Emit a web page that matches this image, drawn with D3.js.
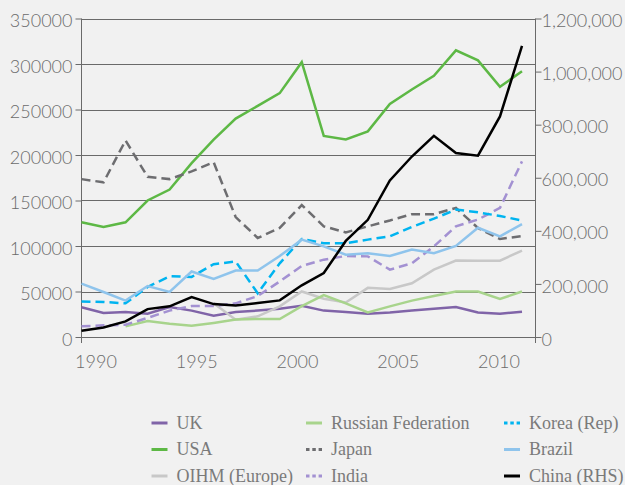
<!DOCTYPE html>
<html>
<head>
<meta charset="utf-8">
<script src="https://cdn.jsdelivr.net/npm/d3@7"></script>
<style>
  html, body { margin: 0; padding: 0; background: #f1f1f1; }
  svg { display: block; }
  .axis text { font-family: Lato, "Open Sans", sans-serif; font-weight: 300; fill: #6b6b6b; }
  .legend text { font-family: "Liberation Serif", serif; fill: #7a7a7a; }
</style>
</head>
<body>
<svg id="chart" width="625" height="485"></svg>
<script>
// Years along the horizontal axis
const years = [1990,1991,1992,1993,1994,1995,1996,1997,1998,1999,2000,
               2001,2002,2003,2004,2005,2006,2007,2008,2009,2010];
const yearLabels = [1990, 1995, 2000, 2005, 2010];
const leftTicks = [0,50000,100000,150000,200000,250000,300000,350000];
const rightTicks = [0,200000,400000,600000,800000,1000000,1200000];

// Series values (left axis unless noted)
const uk     = [32600,26400,27500,25600,33000,29000,23400,27500,29000,31000,34400,29000,27500,25600,27000,29000,31000,33000,27000,25600,27800];
const usa    = [126000,121000,126000,150000,162000,191000,217000,240000,254000,268000,302000,221000,217000,226000,256000,272000,287000,315000,304000,275000,292000];
const oihm   = [null,null,null,null,null,null,37000,19000,22700,33700,50000,42000,38000,54000,52700,59000,74000,84000,83900,83900,95000];
const russia = [null,null,11700,17500,14600,12300,15500,19200,19800,19800,34000,46000,37000,27000,33700,40000,45000,50000,50000,41800,50000];
const japan  = [173500,170000,216000,176000,173500,182000,192000,131800,108800,119800,145000,121600,115000,121600,128000,135000,135000,141800,119800,107700,111000];
const india  = [11700,12800,13500,21000,29000,34000,34000,37000,45000,61000,78000,85000,89000,88600,74000,81000,99600,121600,129000,141800,193000];
const korea  = [39000,38500,37000,55000,66700,66000,80000,83000,48000,81000,107700,103000,103000,107000,110600,121000,130000,140000,137000,133000,128000];
const brazil = [58600,49500,40000,56000,49500,72000,63700,73000,73000,89000,107000,99600,90500,92000,89000,96000,92000,100000,120000,110600,124000];
// China is plotted against the right-hand axis
const china  = [23900,36000,59000,105000,115600,150700,124000,119000,128000,138000,194700,241000,362000,441600,590000,680000,758000,693000,683000,831000,1097000];

const seriesNames = ["UK","USA","OIHM (Europe)","Russian Federation","Japan","India","Korea (Rep)","Brazil","China (RHS)"];
const seriesData  = [uk, usa, oihm, russia, japan, india, korea, brazil, china];
const seriesColor = ["#8064a8","#5db845","#c8c8c8","#a8d48c","#6d6d70","#a391d2","#00b4f0","#8fc4ec","#000000"];
const seriesDash  = [null,null,null,null,"9,5","9,5","9,5",null,null];
const seriesAxis  = ["L","L","L","L","L","L","L","L","R"];

const svg = d3.select("#chart");

const plot = { left: 81.5, right: 535.5, top: 18.5, bottom: 337 };
const x = d3.scaleLinear().domain([1990, 2010]).range([81.5, 522]);
const xLabel = d3.scaleLinear().domain([1990, 2010]).range([96, 499]);
const yL = d3.scaleLinear().domain([0, 350000]).range([plot.bottom, plot.top]);
const yR = d3.scaleLinear().domain([0, 1200000]).range([plot.bottom, plot.top]);

// Horizontal grid
svg.append("g").selectAll("line").data(leftTicks).join("line")
  .attr("x1", plot.left).attr("x2", plot.right)
  .attr("y1", d => Math.round(yL(d)) + 0.5).attr("y2", d => Math.round(yL(d)) + 0.5)
  .attr("stroke", "#6a6a6a").attr("stroke-width", 1);

// Left axis
const leftAxis = svg.append("g").attr("class", "axis")
  .attr("transform", `translate(${plot.left},0)`)
  .call(d3.axisLeft(yL).tickValues(leftTicks).tickFormat(d3.format("d")).tickSize(6).tickSizeOuter(0));
leftAxis.select(".domain").remove();
leftAxis.selectAll(".tick line").attr("stroke", "#6a6a6a");
leftAxis.selectAll(".tick text").attr("font-size", 18).attr("x", -9).attr("dy", "0.45em");
svg.append("line").attr("x1", plot.left).attr("x2", plot.left)
  .attr("y1", plot.top).attr("y2", plot.bottom + 6).attr("stroke", "#6a6a6a");

// Right axis
const rightAxis = svg.append("g").attr("class", "axis")
  .attr("transform", `translate(${plot.right},0)`)
  .call(d3.axisRight(yR).tickValues(rightTicks).tickFormat(d3.format(",")).tickSize(6).tickSizeOuter(0));
rightAxis.select(".domain").remove();
rightAxis.selectAll(".tick line").attr("stroke", "#6a6a6a");
rightAxis.selectAll(".tick text").attr("font-size", 18).attr("x", 6).attr("dy", "0.45em");
svg.append("line").attr("x1", plot.right).attr("x2", plot.right)
  .attr("y1", plot.top).attr("y2", plot.bottom + 6).attr("stroke", "#6a6a6a");

// Year labels
svg.append("g").attr("class", "axis").selectAll("text").data(yearLabels).join("text")
  .attr("x", d => xLabel(d)).attr("y", 368)
  .attr("text-anchor", "middle").attr("font-size", 18)
  .text(d => d);

// Series lines
const line = yScale => d3.line()
  .defined(d => d.v != null)
  .x(d => x(d.year)).y(d => yScale(d.v));

seriesData.forEach((vals, i) => {
  const pts = years.map((yr, j) => ({ year: yr, v: vals[j] }));
  svg.append("path")
    .datum(pts)
    .attr("fill", "none")
    .attr("stroke", seriesColor[i])
    .attr("stroke-width", 2.5)
    .attr("stroke-linejoin", "miter")
    .attr("stroke-dasharray", seriesDash[i])
    .attr("d", line(seriesAxis[i] === "R" ? yR : yL));
});

// Legend
const legCols = [151.5, 306, 504];
const legRows = [423, 449.5, 476];
const legend = svg.append("g").attr("class", "legend");
seriesNames.forEach((name, i) => {
  const col = Math.floor(i / 3), row = i % 3;
  const g = legend.append("g").attr("transform", `translate(${legCols[col]},${legRows[row]})`);
  g.append("line").attr("x1", 0).attr("x2", 16).attr("y1", 0).attr("y2", 0)
    .attr("stroke", seriesColor[i]).attr("stroke-width", 3)
    .attr("stroke-dasharray", seriesDash[i] ? "3.5,2.8" : null);
  g.append("text").attr("x", 25).attr("y", 0).attr("dy", "0.33em")
    .attr("font-size", 18).attr("textLength", null).text(name);
});
</script>
</body>
</html>
